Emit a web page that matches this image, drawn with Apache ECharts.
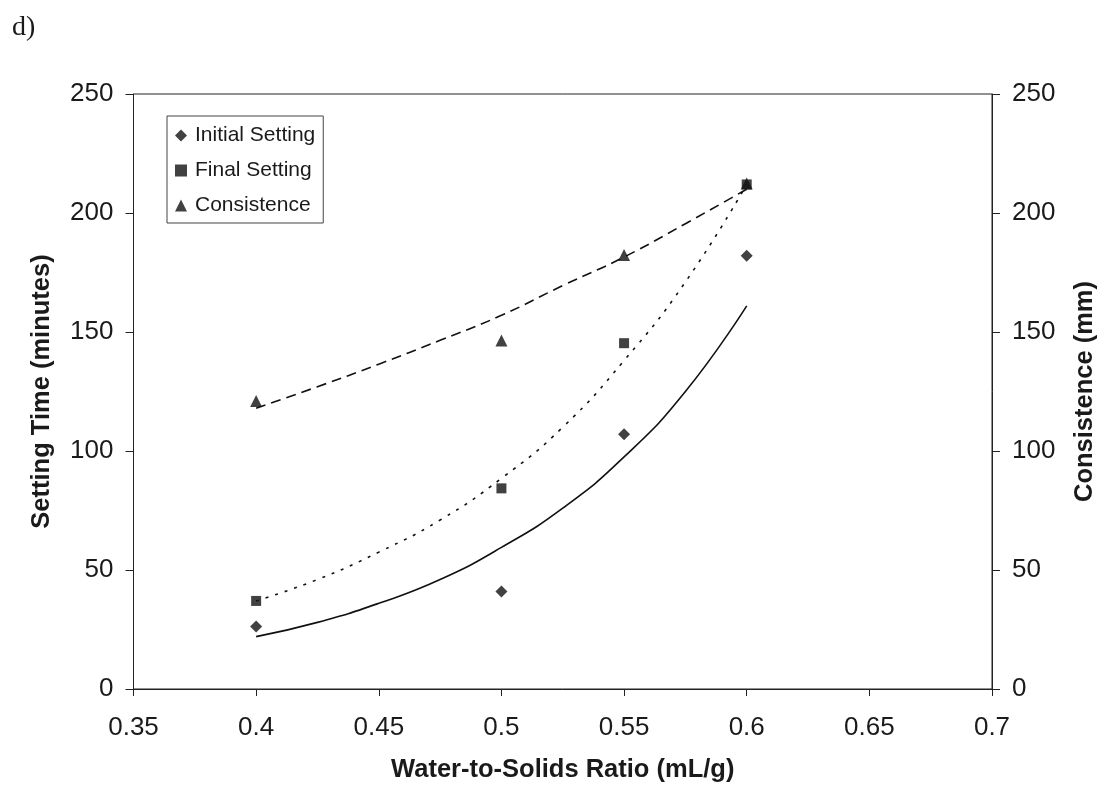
<!DOCTYPE html>
<html><head><meta charset="utf-8">
<script src="https://cdn.jsdelivr.net/npm/echarts@6/dist/echarts.min.js"></script>
<style>html,body{margin:0;padding:0;background:#fff}#c{width:1102px;height:791px}</style>
</head><body><div id="c"></div>
<script>
const ratios = [0.4, 0.5, 0.55, 0.6];
const initialSetting = [26.3, 41, 107, 182];
const finalSetting = [37, 84.3, 145.3, 212];
const consistence = [121, 146.4, 182.4, 212.4];
// trend lines
const trendX = [0.4, 0.425, 0.45, 0.475, 0.5, 0.525, 0.55, 0.575, 0.6];
const trendInitial = [22, 28, 36, 46, 59.5, 76, 97.5, 125, 161];
const trendFinal = [37, 46, 57.5, 71, 88.5, 110, 138, 171, 212];
const trendConsistence = [118, 127, 136.5, 146.5, 157, 169.5, 181.5, 195.5, 210];
const xTicks = { min: 0.35, max: 0.7, step: 0.05 };
const yTicks = { min: 0, max: 250, step: 50 };

const pair = (xs, ys) => xs.map((x, i) => [x, ys[i]]);
const chart = echarts.init(document.getElementById('c'));
const font = 'Liberation Sans, Arial, sans-serif';
const ink = '#1a1a1a';
chart.setOption({
  animation: false,
  backgroundColor: '#fff',
  title: { text: 'd)', left: 7, top: 9, textStyle: { fontFamily: 'Liberation Serif, Times New Roman, serif', fontWeight: 'normal', fontSize: 28, color: ink } },
  grid: { left: 133.5, right: 110, top: 94, bottom: 102, show: true, borderColor: '#222', borderWidth: 1, containLabel: false, outerBoundsMode: 'none' },
  legend: {
    orient: 'vertical', left: 167, top: 116, itemGap: 14, padding: [9, 8, 7, 8],
    borderColor: '#444', borderWidth: 1, itemWidth: 12, itemHeight: 12,
    data: [
      { name: 'Initial Setting', icon: 'diamond' },
      { name: 'Final Setting', icon: 'rect' },
      { name: 'Consistence', icon: 'triangle' }
    ],
    textStyle: { fontFamily: font, fontSize: 21, color: ink, padding: [0, 0, 0, 3] }
  },
  xAxis: {
    type: 'value', min: xTicks.min, max: xTicks.max, interval: xTicks.step,
    name: 'Water-to-Solids Ratio (mL/g)', nameLocation: 'middle', nameGap: 68,
    nameTextStyle: { fontFamily: font, fontWeight: 'bold', fontSize: 25.5, color: ink },
    axisLine: { lineStyle: { color: '#222' } },
    axisTick: { length: 7, lineStyle: { color: '#222' } },
    axisLabel: { fontFamily: font, fontSize: 26, color: ink, margin: 26, formatter: v => String(+v.toFixed(2)) },
    splitLine: { show: false }
  },
  yAxis: [{
    type: 'value', min: yTicks.min, max: yTicks.max, interval: yTicks.step, position: 'left',
    name: 'Setting Time (minutes)', nameLocation: 'middle', nameGap: 79, nameRotate: 90,
    nameTextStyle: { fontFamily: font, fontWeight: 'bold', fontSize: 25.5, color: ink },
    axisLine: { show: true, lineStyle: { color: '#222' } },
    axisTick: { show: true, length: 8, lineStyle: { color: '#222' } },
    axisLabel: { fontFamily: font, fontSize: 26, color: ink, margin: 20 },
    splitLine: { show: false }
  }, {
    type: 'value', min: yTicks.min, max: yTicks.max, interval: yTicks.step, position: 'right',
    name: 'Consistence (mm)', nameLocation: 'middle', nameGap: 80, nameRotate: 90,
    nameTextStyle: { fontFamily: font, fontWeight: 'bold', fontSize: 25.5, color: ink },
    axisLine: { show: true, lineStyle: { color: '#222' } },
    axisTick: { show: true, length: 8, lineStyle: { color: '#222' } },
    axisLabel: { fontFamily: font, fontSize: 26, color: ink, margin: 20 },
    splitLine: { show: false }
  }],
  series: [
    { name: 'trendInitial', type: 'line', smooth: true, symbol: 'none', data: pair(trendX, trendInitial),
      lineStyle: { color: '#111', width: 1.6, type: 'solid' }, z: 2 },
    { name: 'trendFinal', type: 'line', smooth: true, symbol: 'none', data: pair(trendX, trendFinal),
      lineStyle: { color: '#111', width: 1.6, type: [3, 7] }, z: 2 },
    { name: 'trendConsistence', type: 'line', smooth: true, symbol: 'none', yAxisIndex: 1, data: pair(trendX, trendConsistence),
      lineStyle: { color: '#111', width: 1.6, type: [10, 6] }, z: 2 },
    { name: 'Initial Setting', type: 'scatter', symbol: 'diamond', symbolSize: 12, data: pair(ratios, initialSetting),
      itemStyle: { color: '#111' }, z: 3 },
    { name: 'Final Setting', type: 'scatter', symbol: 'rect', symbolSize: 10, data: pair(ratios, finalSetting),
      itemStyle: { color: '#111' }, z: 3 },
    { name: 'Consistence', type: 'scatter', symbol: 'triangle', symbolSize: [12, 12], yAxisIndex: 1, data: pair(ratios, consistence),
      itemStyle: { color: '#111' }, z: 3 }
  ]
});
</script></body></html>
